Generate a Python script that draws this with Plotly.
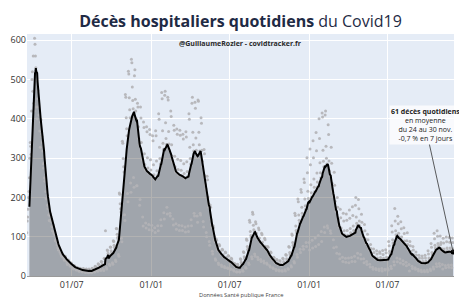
import pandas as pd
import plotly.graph_objects as go

date_debut = "2020-03-19"

# Décès hospitaliers quotidiens (lecture approximative), une ligne = une semaine (lun -> dim)
deces_quotidiens = [
    110, 140, 150, 170,
    200, 215, 250, 300, 340, 330, 310,
    420, 500, 520, 470, 560, 440, 420,
    605, 590, 560, 530, 500, 430, 400,
    451, 472, 431, 410, 410, 369, 328,
    392, 398, 362, 355, 340, 318, 286,
    275, 288, 250, 241, 248, 215, 198,
    196, 205, 180, 171, 178, 155, 141,
    160, 158, 152, 138, 145, 126, 115,
    124, 130, 112, 108, 106, 101, 90,
    93, 91, 88, 79, 84, 72, 66,
    70, 69, 66, 60, 63, 55, 51,
    55, 57, 50, 48, 50, 43, 40,
    48, 50, 42, 40, 38, 33, 29,
    40, 41, 35, 33, 31, 26, 25,
    32, 33, 28, 26, 25, 20, 18,
    27, 26, 22, 21, 20, 16, 15,
    22, 21, 18, 17, 16, 12, 13,
    20, 19, 16, 15, 14, 11, 10,
    18, 19, 15, 14, 13, 10, 9,
    17, 18, 14, 13, 12, 9, 8,
    18, 16, 14, 13, 12, 10, 8,
    20, 19, 16, 15, 14, 11, 10,
    25, 24, 21, 19, 18, 14, 12,
    31, 30, 25, 23, 22, 16, 14,
    37, 36, 30, 28, 26, 18, 14,
    45, 44, 37, 115, 33, 22, 18,
    66, 65, 58, 53, 51, 30, 27,
    74, 73, 64, 60, 57, 34, 30,
    90, 88, 78, 73, 69, 41, 37,
    121, 120, 106, 98, 94, 55, 50,
    211, 208, 184, 171, 163, 96, 87,
    343, 338, 299, 278, 265, 156, 141,
    462, 455, 403, 375, 357, 210, 189,
    521, 514, 454, 423, 403, 237, 213,
    552, 543, 481, 447, 426, 251, 226,
    510, 525, 450, 420, 400, 230, 230,
    440, 430, 380, 350, 335, 180, 195,
    430, 402, 340, 300, 295, 150, 127,
    392, 378, 311, 284, 270, 135, 122,
    380, 367, 301, 275, 262, 131, 118,
    373, 360, 296, 270, 257, 129, 116,
    357, 344, 283, 258, 246, 123, 111,
    370, 357, 293, 268, 255, 128, 115,
    413, 399, 328, 299, 285, 143, 128,
    467, 451, 370, 338, 322, 161, 145,
    460, 470, 390, 350, 335, 175, 158,
    455, 448, 368, 336, 320, 160, 153,
    420, 406, 334, 305, 290, 145, 130,
    384, 371, 305, 278, 265, 133, 119,
    374, 361, 297, 271, 258, 129, 116,
    371, 358, 294, 269, 256, 128, 116,
    361, 349, 286, 261, 249, 125, 112,
    367, 354, 291, 266, 253, 127, 113,
    413, 399, 328, 299, 285, 143, 128,
    440, 455, 366, 334, 318, 160, 153,
    442, 427, 351, 320, 305, 153, 137,
    448, 445, 366, 334, 318, 160, 155,
    403, 389, 320, 292, 278, 139, 125,
    322, 311, 255, 233, 222, 111, 100,
    254, 245, 201, 184, 175, 88, 78,
    181, 175, 144, 131, 125, 63, 56,
    128, 123, 101, 92, 88, 44, 40,
    94, 91, 75, 68, 65, 33, 29,
    80, 77, 63, 58, 55, 28, 24,
    68, 66, 54, 49, 47, 24, 21,
    61, 59, 48, 44, 42, 21, 19,
    52, 50, 41, 38, 36, 18, 17,
    45, 43, 36, 33, 31, 16, 13,
    32, 31, 25, 23, 22, 11, 10,
    30, 29, 24, 22, 21, 11, 10,
    44, 42, 35, 32, 30, 15, 12,
    62, 60, 49, 45, 43, 22, 20,
    94, 91, 75, 68, 65, 33, 29,
    142, 137, 113, 103, 98, 49, 44,
    162, 157, 129, 118, 112, 56, 50,
    138, 133, 109, 100, 95, 48, 42,
    122, 118, 97, 88, 84, 42, 37,
    109, 105, 86, 79, 75, 38, 33,
    96, 92, 76, 69, 66, 33, 30,
    75, 73, 60, 55, 52, 26, 23,
    61, 59, 48, 44, 42, 21, 19,
    48, 46, 38, 35, 33, 17, 14,
    42, 41, 33, 30, 29, 15, 13,
    39, 38, 31, 28, 27, 14, 12,
    45, 43, 36, 33, 31, 16, 13,
    55, 53, 44, 40, 38, 19, 17,
    75, 73, 60, 55, 52, 26, 23,
    107, 104, 85, 78, 74, 37, 33,
    160, 154, 127, 116, 110, 55, 48,
    196, 189, 155, 142, 135, 68, 60,
    220, 213, 175, 160, 152, 76, 68,
    247, 238, 196, 179, 170, 85, 75,
    301, 263, 216, 197, 188, 85, 66,
    323, 283, 232, 212, 202, 91, 71,
    344, 301, 247, 226, 215, 97, 75,
    365, 319, 262, 239, 228, 103, 80,
    400, 350, 288, 263, 250, 113, 88,
    415, 405, 320, 292, 278, 125, 111,
    410, 420, 330, 300, 285, 128, 122,
    385, 360, 293, 268, 255, 115, 109,
    328, 287, 236, 215, 205, 92, 72,
    264, 231, 190, 173, 165, 74, 58,
    200, 175, 144, 131, 125, 56, 44,
    170, 148, 122, 111, 106, 48, 37,
    160, 140, 115, 105, 100, 45, 35,
    158, 142, 116, 104, 100, 46, 34,
    168, 147, 121, 110, 105, 47, 37,
    176, 154, 127, 116, 110, 50, 37,
    180, 200, 150, 134, 128, 58, 46,
    195, 171, 140, 128, 122, 55, 43,
    157, 137, 113, 103, 98, 44, 34,
    131, 115, 94, 86, 82, 37, 29,
    106, 92, 76, 69, 66, 30, 23,
    80, 70, 58, 53, 50, 22, 17,
    69, 60, 49, 45, 43, 19, 16,
    64, 56, 46, 42, 40, 18, 14,
    62, 58, 47, 41, 40, 19, 13,
    65, 55, 45, 43, 40, 17, 15,
    67, 59, 48, 44, 42, 19, 15,
    88, 77, 63, 58, 55, 25, 19,
    128, 112, 92, 84, 80, 36, 28,
    172, 140, 115, 105, 100, 46, 36,
    152, 133, 109, 100, 95, 43, 33,
    138, 120, 99, 90, 86, 39, 30,
    123, 108, 89, 81, 77, 35, 26,
    90, 110, 80, 68, 65, 29, 13,
    88, 77, 63, 58, 55, 25, 19,
    75, 66, 54, 49, 47, 21, 17,
    61, 53, 44, 40, 38, 17, 13,
    53, 46, 38, 35, 33, 15, 11,
    51, 45, 37, 34, 32, 14, 11,
    53, 46, 38, 35, 33, 15, 11,
    64, 56, 46, 42, 40, 18, 14,
    83, 73, 60, 55, 52, 23, 18,
    109, 95, 78, 71, 68, 31, 24,
    115, 101, 83, 76, 72, 32, 25,
    102, 80, 85, 70, 64, 29, 18,
    96, 84, 69, 63, 60, 27, 21,
    99, 87, 71, 65, 62, 28, 22,
    98, 86, 71, 65, 62, 28, 21,
    97, 85, 69,
]

titre = "<b>Décès hospitaliers quotidiens</b> du Covid19"
signature = "<b>@GuillaumeRozier - covidtracker.fr</b>"
source = "Données Santé publique France"
texte_annotation = ("<b>61 décès quotidiens</b><br>en moyenne<br>"
                    "du 24 au 30 nov.<br>-0,7 % en 7 jours")
x_range = ["2020-03-19 12:00", "2022-12-02"]
y_range = [0, 616]

dates = pd.date_range(date_debut, periods=len(deces_quotidiens), freq="D")
serie = pd.Series(deces_quotidiens, index=dates, dtype=float)
moyenne = serie.rolling(7).mean()

fig = go.Figure()
fig.add_trace(go.Scatter(
    x=dates, y=moyenne, mode="lines", line=dict(width=0),
    fill="tozeroy", fillcolor="rgba(0,0,0,0.3)", hoverinfo="skip",
    showlegend=False))
fig.add_trace(go.Scatter(
    x=dates, y=serie, mode="markers",
    marker=dict(size=3, color="rgba(178,178,182,0.9)"),
    showlegend=False))
fig.add_trace(go.Scatter(
    x=dates, y=moyenne, mode="lines", line=dict(color="black", width=2),
    showlegend=False))
fig.add_trace(go.Scatter(
    x=[dates[-1]], y=[moyenne.iloc[-1]], mode="markers",
    marker=dict(size=5, color="black"), showlegend=False))

fig.update_layout(
    width=459, height=306,
    margin=dict(l=27, r=5, t=34, b=30),
    paper_bgcolor="white", plot_bgcolor="#E5ECF6",
    font=dict(family="Open Sans", color="#2a3f5f"),
    title=dict(text=titre, x=0.5, xanchor="center", xref="paper",
               y=1 - 21 / 306, yref="container", yanchor="middle",
               font=dict(size=16, color="#1f2b45")),
    xaxis=dict(type="date", range=x_range, tickformat="%d/%m",
               tick0="2020-01-01", dtick="M6", showgrid=True,
               gridcolor="white", gridwidth=1, showline=True,
               linecolor="#9a9a9a", linewidth=1,
               tickfont=dict(size=9, color="#333")),
    yaxis=dict(range=y_range, dtick=100, gridcolor="white", gridwidth=1,
               zeroline=False, tickfont=dict(size=9, color="#333")),
    annotations=[
        dict(text=signature, xref="paper", yref="paper", x=0.5, y=0.962,
             xanchor="center", yanchor="middle", showarrow=False,
             font=dict(size=7, color="#2a2a2a")),
        dict(text=source, xref="paper", yref="paper", x=0.5, y=-0.08,
             xanchor="center", yanchor="middle", showarrow=False,
             font=dict(size=5.7, color="#444")),
        dict(text=texte_annotation, x=dates[-1], y=moyenne.iloc[-1],
             xref="x", yref="y", showarrow=True, ax=-28, ay=-127,
             arrowhead=0, arrowwidth=0.8, arrowcolor="#333",
             bgcolor="rgba(255,255,255,0.75)", align="center",
             font=dict(size=7, color="#222")),
    ],
)

fig.write_html("out.html")
